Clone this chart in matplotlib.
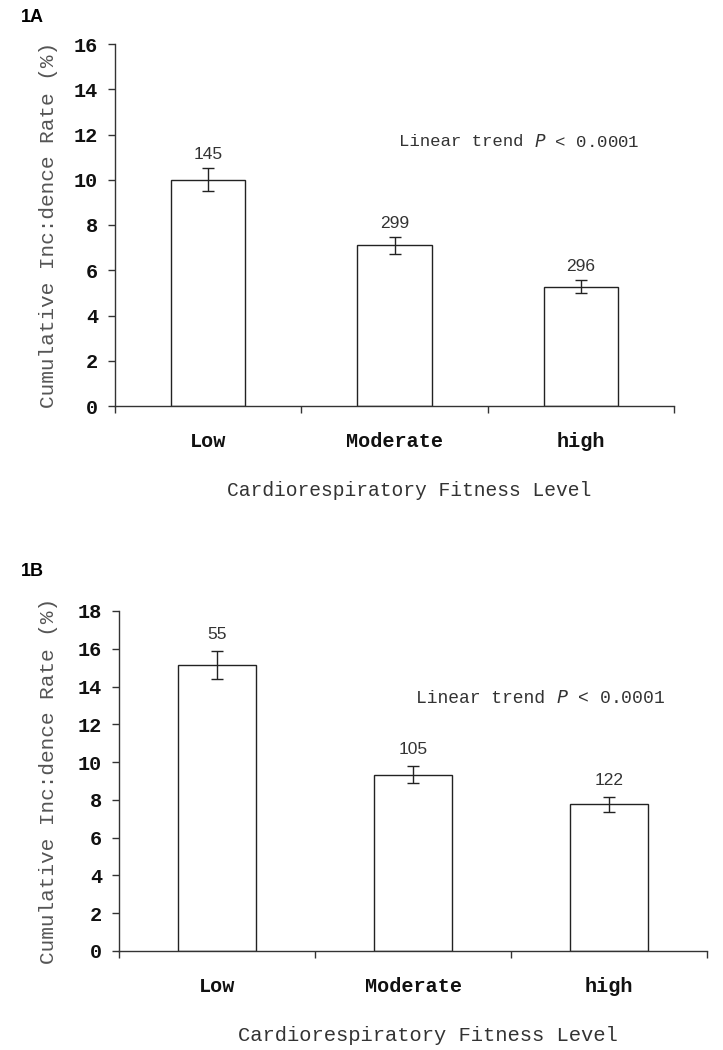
import matplotlib
matplotlib.use("Agg")
import matplotlib.pyplot as plt
from matplotlib.ticker import FixedLocator, NullFormatter, FixedFormatter

categories = ["Low", "Moderate", "high"]

rate_a = [10.0, 7.1, 5.28]
err_a = [0.5, 0.37, 0.27]
n_a = ["145", "299", "296"]

rate_b = [15.13, 9.33, 7.76]
err_b = [0.75, 0.45, 0.40]
n_b = ["55", "105", "122"]

W, H = 723, 1050
fig = plt.figure(figsize=(W / 100, H / 100), dpi=100)
fig.patch.set_facecolor("white")

mono = "Liberation Mono"
sans = "Liberation Sans"
dark = "#222222"


def panel(rect, rates, errs, ns, ymax, letter, letter_y, trend_xy, trend_fs,
          lab_off, xlab_fs, xlab_shift):
    l, b, r, t = rect
    ax = fig.add_axes([l / W, 1 - b / H, (r - l) / W, (b - t) / H])
    x = [i + 0.5 for i in range(len(categories))]
    ax.bar(x, rates, width=0.40, color="white", edgecolor=dark, linewidth=1.0, zorder=2)
    ax.errorbar(x, rates, yerr=errs, fmt="none", ecolor=dark, elinewidth=1.0,
                capsize=4, capthick=1.0, zorder=3)
    for xi, v, e, s in zip(x, rates, errs, ns):
        ax.annotate(s, (xi, v + e), xytext=(0, lab_off), textcoords="offset points",
                    ha="center", va="center", fontsize=12.5, family=sans, color="#333333")
    ax.set_xlim(0, 3)
    ax.set_ylim(0, ymax)
    for sp in ["top", "right"]:
        ax.spines[sp].set_visible(False)
    for sp in ["left", "bottom"]:
        ax.spines[sp].set_color("#333333")
        ax.spines[sp].set_linewidth(1.0)
    ax.set_yticks(list(range(0, ymax + 1, 2)))
    ax.tick_params(axis="y", direction="out", length=5, width=1, color="#333333",
                   pad=7, labelsize=14.5)
    for lab in ax.get_yticklabels():
        lab.set_fontfamily(mono)
        lab.set_fontweight("bold")
        lab.set_color("#111111")
    ax.xaxis.set_major_locator(FixedLocator([0, 1, 2, 3]))
    ax.xaxis.set_major_formatter(NullFormatter())
    ax.xaxis.set_minor_locator(FixedLocator(x))
    ax.xaxis.set_minor_formatter(FixedFormatter(categories))
    ax.tick_params(axis="x", which="major", direction="out", length=5, width=1, color="#333333")
    ax.tick_params(axis="x", which="minor", length=0, pad=19, labelsize=14.5)
    for lab in ax.xaxis.get_minorticklabels():
        lab.set_fontfamily(mono)
        lab.set_fontweight("bold")
        lab.set_color("#111111")
    ax.set_xlabel("Cardiorespiratory Fitness Level", family=mono, fontsize=xlab_fs,
                  color="#333333", labelpad=21, x=0.5 + xlab_shift / (r - l))
    ax.set_ylabel("Cumulative Inc:dence Rate (%)", family=mono, fontsize=15.2,
                  color="#555555", va="center")
    ax.yaxis.set_label_coords((49 - l) / (r - l), 0.5)
    tx, ty = trend_xy
    ax.text(tx, ty, "Linear trend ", family=mono, fontsize=trend_fs, color="#333333",
            ha="right", va="center")
    ax.text(tx, ty, r"$P$ < 0.0001", family=mono, fontsize=trend_fs, color="#333333",
            ha="left", va="center")
    fig.text(21 / W, 1 - letter_y / H, letter, family=sans, fontweight="bold",
             fontsize=13, va="center", ha="left")
    return ax


panel((115, 406, 674, 44), rate_a, err_a, ns=n_a, ymax=16, letter="1A", letter_y=17,
      trend_xy=(2.25, 11.7), trend_fs=12.5, lab_off=10, xlab_fs=14.1, xlab_shift=15)
panel((119, 951, 707, 611), rate_b, err_b, ns=n_b, ymax=18, letter="1B", letter_y=572,
      trend_xy=(2.23, 13.37), trend_fs=13.0, lab_off=12, xlab_fs=14.8, xlab_shift=15)

fig.savefig("out.png", dpi=100, facecolor="white")
